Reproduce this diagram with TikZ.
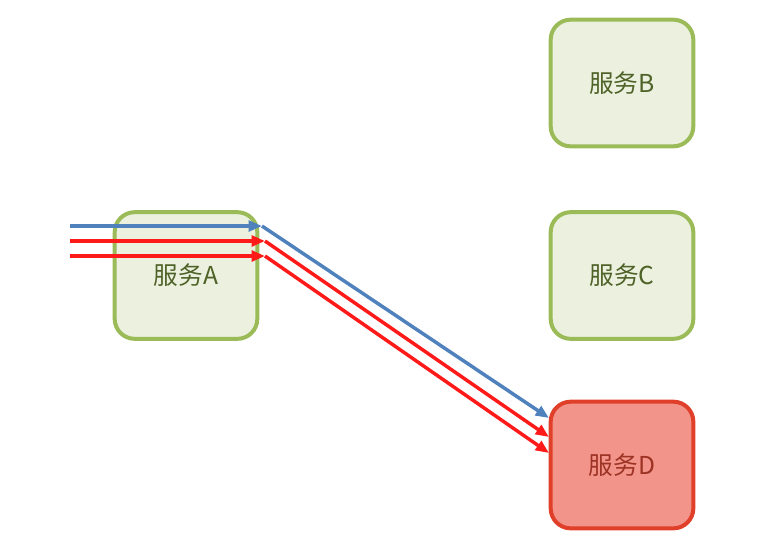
\documentclass[tikz,border=0pt]{standalone}
\usepackage{fontspec}
\newfontfamily\cjk{Noto Sans CJK SC}
\usetikzlibrary{arrows.meta,positioning}
\definecolor{svcline}{HTML}{9BBB59}
\definecolor{svcfill}{HTML}{EBF1DE}
\definecolor{svctext}{HTML}{4F6228}
\definecolor{badline}{HTML}{E0402A}
\definecolor{badfill}{HTML}{F2948A}
\definecolor{badtext}{HTML}{9C3324}
\definecolor{okflow}{HTML}{4F81BD}
\definecolor{errflow}{HTML}{FF1A1A}

\begin{document}
\begin{tikzpicture}[x=0.75pt,y=-0.75pt,
  >={Triangle[length=10pt,width=8pt]},
  svc/.style={draw=svcline,fill=svcfill,line width=3pt,rounded corners=15pt,
    minimum width=107pt,minimum height=95pt,text=svctext,font=\cjk\fontsize{18.5}{20}\selectfont},
  svcbad/.style={svc,draw=badline,fill=badfill,text=badtext},
  flow/.style={line width=2.6pt,->}]
  \useasboundingbox (0,0) rectangle (759,544);
  \node[svc] (A) at (186,275.5) {服务A};
  \node[svc] (B) at (622,83) {服务B};
  \node[svc] (C) at (622,275.5) {服务C};
  \node[svcbad] (D) at (622,465) {服务D};
  % incoming calls
  \coordinate (s1) at (70,226);
  \coordinate (s2) at (70,241);
  \coordinate (s3) at (70,256);
  \coordinate (k1) at (262,226);
  \coordinate (k2) at (265,241);
  \coordinate (k3) at (265,256);
  \coordinate (e1) at (549,418);
  \coordinate (e2) at (549,437);
  \coordinate (e3) at (549,453);
  \draw[flow,okflow] (s1) -- (k1);
  \draw[flow,errflow] (s2) -- (k2);
  \draw[flow,errflow] (s3) -- (k3);
  % forwarded to D
  \draw[flow,okflow] (k1) -- (e1);
  \draw[flow,errflow] (k2) -- (e2);
  \draw[flow,errflow] (k3) -- (e3);
\end{tikzpicture}
\end{document}
